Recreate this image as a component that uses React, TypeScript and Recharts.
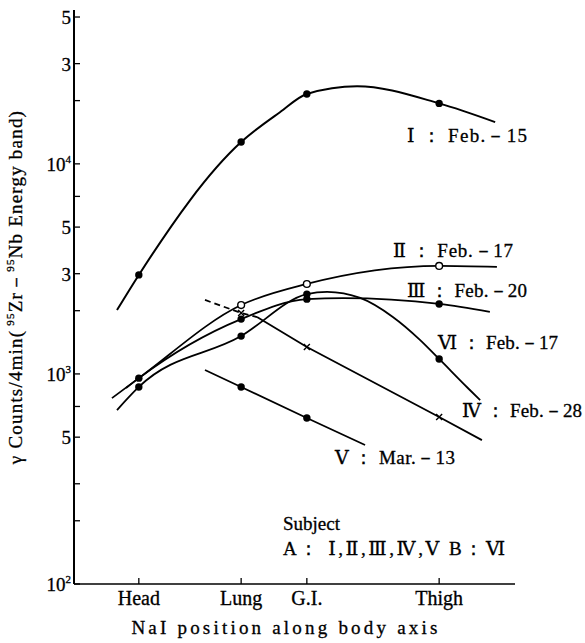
import React from "react";
import { ComposedChart, Line, Scatter, XAxis, YAxis } from "recharts";

// Detector (NaI) positions along the body axis (arbitrary position units)
const siteNames = ["Head", "Lung", "G.I.", "Thigh"];
const sitePos = [14.7, 37.9, 52.8, 82.8];

// y-axis ticks (log scale) and their labels
const yTicks = [100, 200, 300, 500, 700, 1000, 2000, 3000, 5000, 7000, 10000, 20000, 30000, 50000];
const yTickBase: Record<number, string> = { 100: "10", 500: "5", 1000: "10", 3000: "3", 5000: "5", 10000: "10", 30000: "3", 50000: "5" };
const yTickExp: Record<number, string> = { 100: "2", 1000: "3", 10000: "4" };

// measured counts at Head, Lung, G.I., Thigh (null = not measured)
const valsI = [2960, 12700, 21500, 19400];
const valsII = [955, 2128, 2680, 3266];
const valsIII = [955, 1824, 2270, 2153];
const valsIV = [null, 1950, 1343, 624];
const valsV = [null, 867, 617, null];
const valsVI = [867, 1514, 2398, 1178];

// additional points: [position, counts]
const traceI = [[9.75, 2014], [46.7, 17600], [64.2, 23400], [95.5, 15800]];
const traceII = [[8.6, 767], [95.9, 3230]];
const traceIII = [[11.8, 857], [61.0, 2295], [94.3, 1973]];
const traceIVdash = [[29.7, 2250], [41.5, 1866]];
const traceIV = [[41.5, 1866], [92.5, 484]];
const traceV = [[29.7, 1044], [66.0, 459]];
const traceVI = [[9.75, 673], [57.4, 2460], [64.9, 2300], [72.3, 1867], [78.5, 1449], [89.3, 857], [92.1, 751]];

type Pt = { x: number; y: number };

const measured = (vals: (number | null)[]): Pt[] =>
  vals
    .map((v, i) => (v == null ? null : { x: sitePos[i], y: v }))
    .filter((p): p is Pt => p !== null);

const curve = (vals: (number | null)[], trace: number[][], only?: number[]): Pt[] => {
  const m = measured(vals).filter((p) => !only || only.includes(sitePos.indexOf(p.x)));
  const t = trace.map(([x, y]) => ({ x, y }));
  return [...m, ...t].sort((a, b) => a.x - b.x);
};

const lineI = curve(valsI, traceI);
const lineII = curve(valsII, traceII);
const lineIII = curve(valsIII, traceIII);
const lineIVdash = curve(valsIV, traceIVdash, [1]);
const lineIV = curve(valsIV, traceIV, [2, 3]);
const lineV = curve(valsV, traceV);
const lineVI = curve(valsVI, traceVI);

const FONT = "'Liberation Serif', 'DejaVu Serif', serif";

const filledDot = (p: any) => <circle cx={p.cx} cy={p.cy} r={3.7} fill="#000" />;
const openDot = (p: any) => <circle cx={p.cx} cy={p.cy} r={3.4} fill="#fff" stroke="#000" strokeWidth={1.4} />;
const crossDot = (p: any) => (
  <path
    d={`M${p.cx - 3},${p.cy - 3}L${p.cx + 3},${p.cy + 3}M${p.cx - 3},${p.cy + 3}L${p.cx + 3},${p.cy - 3}`}
    stroke="#000"
    strokeWidth={1.4}
  />
);

const XTick = (props: any) => {
  const { x, y, payload } = props;
  const idx = sitePos.indexOf(payload.value);
  return (
    <g>
      <line x1={x} x2={x} y1={y - 14} y2={y - 20} stroke="#000" strokeWidth={1.3} />
      <text x={x} y={y} dy={7} textAnchor="middle" fontFamily={FONT} fontSize={20} fill="#000" stroke="#000" strokeWidth={0.3}>
        {siteNames[idx]}
      </text>
    </g>
  );
};

const YTick = (props: any) => {
  const { x, y, payload } = props;
  const v = payload.value;
  const base = yTickBase[v];
  const exp = yTickExp[v];
  return (
    <g>
      <line x1={x + 3} x2={x + 9} y1={y} y2={y} stroke="#000" strokeWidth={1.3} />
      {base && (
        <text x={x} y={y} dy={7} textAnchor="end" fontFamily={FONT} fontSize={19} fill="#000" stroke="#000" strokeWidth={0.3}>
          {base}
          {exp && (
            <tspan fontSize={11} dy={-8}>
              {exp}
            </tspan>
          )}
        </text>
      )}
    </g>
  );
};

const labels = [
  { t: "Ⅰ ： Feb.－15", x: 407, y: 142 },
  { t: "Ⅱ ： Feb.－17", x: 393, y: 257 },
  { t: "Ⅲ ： Feb.－20", x: 407, y: 297 },
  { t: "Ⅵ ： Feb.－17", x: 438, y: 349 },
  { t: "Ⅳ ： Feb.－28", x: 462, y: 417 },
  { t: "Ⅴ ： Mar.－13", x: 335, y: 464 },
];

export default function App() {
  return (
    <div style={{ position: "absolute", left: 0, top: 0, width: 585, height: 643, background: "#fff" }}>
      <ComposedChart
        width={585}
        height={643}
        margin={{ top: 10, right: 70, bottom: 0, left: 0 }}
        style={{ position: "absolute", left: 0, top: 0 }}
      >
        <XAxis
          type="number"
          dataKey="x"
          domain={[0, 100]}
          ticks={sitePos}
          tick={<XTick />}
          tickLine={false}
          tickSize={0}
          tickMargin={14}
          height={59}
          axisLine={{ stroke: "#000", strokeWidth: 1.6 }}
          allowDataOverflow
        />
        <YAxis
          type="number"
          dataKey="y"
          scale="log"
          domain={[100, 54000]}
          ticks={yTicks}
          tick={<YTick />}
          tickLine={false}
          tickSize={0}
          tickMargin={3}
          width={74}
          interval={0}
          axisLine={{ stroke: "#000", strokeWidth: 2 }}
          allowDataOverflow
        />
        <Line data={lineI} dataKey="y" type="monotone" stroke="#000" strokeWidth={2} dot={false} isAnimationActive={false} />
        <Line data={lineII} dataKey="y" type="monotone" stroke="#000" strokeWidth={1.8} dot={false} isAnimationActive={false} />
        <Line data={lineIII} dataKey="y" type="monotone" stroke="#000" strokeWidth={1.8} dot={false} isAnimationActive={false} />
        <Line data={lineIVdash} dataKey="y" type="linear" stroke="#000" strokeWidth={1.8} strokeDasharray="6 4" dot={false} isAnimationActive={false} />
        <Line data={lineIV} dataKey="y" type="linear" stroke="#000" strokeWidth={1.8} dot={false} isAnimationActive={false} />
        <Line data={lineV} dataKey="y" type="linear" stroke="#000" strokeWidth={1.8} dot={false} isAnimationActive={false} />
        <Line data={lineVI} dataKey="y" type="monotone" stroke="#000" strokeWidth={1.8} dot={false} isAnimationActive={false} />
        <Scatter data={measured(valsI)} dataKey="y" shape={filledDot} isAnimationActive={false} />
        <Scatter data={measured(valsIII)} dataKey="y" shape={filledDot} isAnimationActive={false} />
        <Scatter data={measured(valsV)} dataKey="y" shape={filledDot} isAnimationActive={false} />
        <Scatter data={measured(valsVI)} dataKey="y" shape={filledDot} isAnimationActive={false} />
        <Scatter data={measured(valsIV)} dataKey="y" shape={crossDot} isAnimationActive={false} />
        <Scatter data={measured(valsII).filter((p) => p.x !== sitePos[0])} dataKey="y" shape={openDot} isAnimationActive={false} />
      </ComposedChart>
      <svg width={585} height={643} style={{ position: "absolute", left: 0, top: 0, pointerEvents: "none" }}>
        <g fontFamily={FONT} fontSize={19} fill="#000" stroke="#000" strokeWidth={0.3}>
          {labels.map((l) => (
            <text key={l.t} x={l.x} y={l.y} textLength={120} lengthAdjust="spacing">
              {l.t}
            </text>
          ))}
          <text x={283} y={530} fontSize={19}>Subject</text>
          <text x={283} y={555} fontSize={19} textLength={222} lengthAdjust="spacing">A： Ⅰ,Ⅱ,Ⅲ,Ⅳ,Ⅴ B：Ⅵ</text>
          <text x={286} y={634} textAnchor="middle" fontSize={19} letterSpacing={3.2}>
            NaI position along body axis
          </text>
          <text transform="translate(22,287) rotate(-90)" textAnchor="middle" fontSize={19} letterSpacing={1.2}>
            γ Counts/4min(
            <tspan fontSize={11} dy={-8}> 95</tspan>
            <tspan dy={8}>Zr－</tspan>
            <tspan fontSize={11} dy={-8}>95</tspan>
            <tspan dy={8}>Nb Energy band)</tspan>
          </text>
        </g>
      </svg>
    </div>
  );
}
